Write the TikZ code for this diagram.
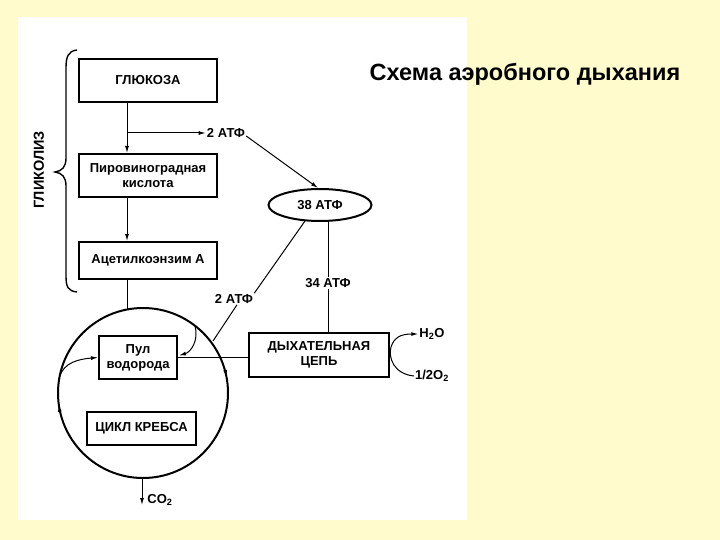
\documentclass[tikz,border=0pt]{standalone}
\usepackage{fontspec}
\setmainfont{Liberation Sans}
\usetikzlibrary{arrows.meta,shapes.geometric,decorations.markings,calc}
\definecolor{bgyellow}{RGB}{255,251,204}
\begin{document}
\begin{tikzpicture}[x=1pt,y=-1pt,
  boxa/.style={draw,line width=2pt,inner sep=0pt,align=center,font=\bfseries\fontsize{13}{15}\selectfont},
  lbl/.style={inner sep=1pt,font=\bfseries\fontsize{13}{14}\selectfont},
  conn/.style={line width=1pt},
  arr/.style={line width=1pt,-{Latex[length=7pt,width=4pt]}},
]
\useasboundingbox (0,0) rectangle (720,540);
\fill[bgyellow] (0,0) rectangle (720,540);
\fill[white] (18,17) rectangle (467,520);

\node[font=\bfseries\fontsize{23.5}{26}\selectfont] (title) at (525,74) {Схема аэробного дыхания};

% boxes
\node[boxa,minimum width=138pt,minimum height=43pt] (glu) at (148,80.5) {ГЛЮКОЗА};
\node[boxa,minimum width=138pt,minimum height=43pt] (pyr) at (148,175.5) {Пировиноградная\\кислота};
\node[boxa,minimum width=138pt,minimum height=37pt] (acet) at (148,260.5) {Ацетилкоэнзим А};
\node[boxa,minimum width=78pt,minimum height=43pt] (pool) at (138,357.5) {Пул\\водорода};
\node[boxa,minimum width=140pt,minimum height=44pt] (resp) at (319,355) {ДЫХАТЕЛЬНАЯ\\ЦЕПЬ};
\node[boxa,minimum width=109pt,minimum height=33pt] (krebs) at (141.5,428.5) {ЦИКЛ КРЕБСА};
\node[draw,ellipse,line width=2pt,minimum width=103pt,minimum height=32pt,inner sep=0pt,font=\bfseries\fontsize{13}{14}\selectfont] (atp38) at (320,205) {38 АТФ};

% labels
\node[lbl] (atp2a) at (226,133) {2 АТФ};
\node[lbl] (atp2b) at (234,299) {2 АТФ};
\node[lbl,fill=white] (atp34) at (328,283) {34 АТФ};
\node[lbl] (h2o) at (432,334) {H\textsubscript{2}O};
\node[lbl] (o2) at (432,376) {1/2O\textsubscript{2}};
\node[lbl] (co2) at (160,500) {CO\textsubscript{2}};
\node[font=\bfseries\fontsize{14.5}{16}\selectfont,rotate=90] (glyc) at (39,170) {ГЛИКОЛИЗ};

% Krebs circle
\coordinate (cc) at (143,393);
\draw[line width=2pt,postaction={decorate},
  decoration={markings,
    mark=at position 0.478 with {\arrow{Latex[length=7pt,width=4pt]}},
    mark=at position 0.97 with {\arrow{Latex[length=7pt,width=4pt]}}}]
  (cc) circle (85);

% coordinates on circle
\coordinate (ctop) at (127,309.6);
\coordinate (cbot) at (142,478);
\coordinate (co2end) at (142,505);
\coordinate (cin1) at (195,326);
\coordinate (cin2) at (213,341);
\coordinate (cleft) at (59.3,378);
\coordinate (branch) at (127,133);

% glycolysis chain
\draw[arr] (glu.south -| branch) -- (pyr.north -| branch);
\draw[arr] (branch) -- (atp2a.west);
\draw[arr] (pyr.south -| branch) -- (acet.north -| branch);
\draw[conn] (acet.south -| branch) -- (ctop);

% ATP connections
\draw[arr] ($(atp2a.east)+(0,3)$) -- ($(atp38.north)+(-2,0)$);
\draw[conn] ($(atp38.south)+(-15,-1)$) -- (atp2b.north east);
\draw[conn] ($(atp2b.south)+(3,0)$) -- (cin2);
\draw[conn] (atp38.south -| atp34) -- (atp34.north);
\draw[conn] (atp34.south) -- (resp.north -| atp34);

% inner arrows
\draw[arr] (cin1) .. controls (199,340) and (191,352) .. ($(pool.east)+(1,-2)$);
\draw[arr] (cleft) .. controls (63,362) and (80,359) .. (pool.west);
\draw[conn] (pool.east) -- (pool.east -| resp.west);

% CO2
\draw[arr] (cbot) -- (co2end);

% H2O / O2
\draw[arr] (o2.west) .. controls (394,374) and (388,358) .. (391,347)
  .. controls (394,338) and (400,334) .. (h2o.west);

% brace
\draw[line width=1.4pt] (77,50) .. controls (68,51) and (66,57) .. (66,68) -- (66,158)
  .. controls (66,167) and (62,171) .. (55,172)
  .. controls (62,173) and (66,177) .. (66,186) -- (66,276)
  .. controls (66,287) and (68,291) .. (77,292);
\end{tikzpicture}
\end{document}
